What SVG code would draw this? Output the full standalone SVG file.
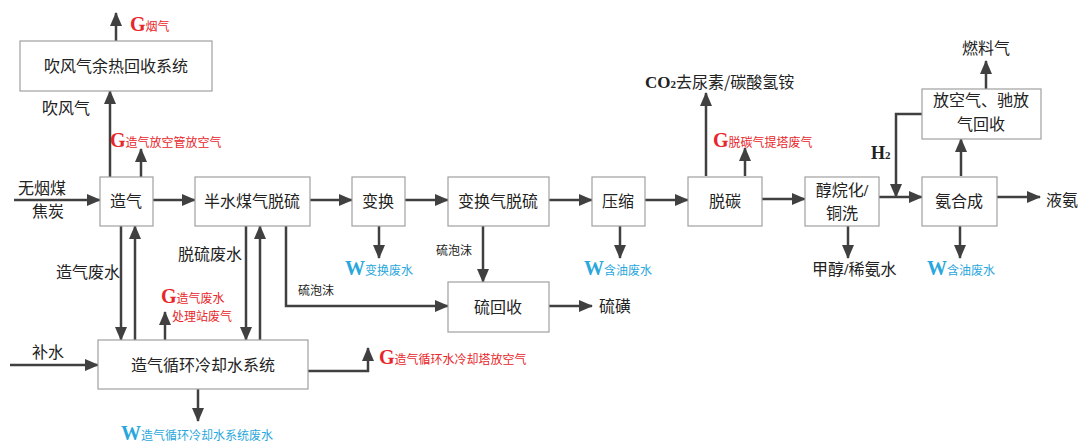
<svg xmlns="http://www.w3.org/2000/svg" width="1079" height="443" viewBox="0 0 1079 443">
<defs>
<marker id="ah" markerUnits="userSpaceOnUse" markerWidth="14" markerHeight="12" refX="13" refY="6" orient="auto">
<path d="M0,0 L14,6 L0,12 Z" fill="#404040"/>
</marker>
<style>
.box{fill:#fff;stroke:#a0a0a0;stroke-width:1.2}
.ln{fill:none;stroke:#404040;stroke-width:2.5}
.ar{fill:none;stroke:#404040;stroke-width:2.5;marker-end:url(#ah)}
.t{font-family:"Noto Sans CJK SC","Noto Sans CJK JP",sans-serif;font-size:16px;fill:#222}
.m{text-anchor:middle}
.s{font-family:"Noto Sans CJK SC",sans-serif;font-size:12px;fill:#222}
.r{font-family:"Noto Sans CJK SC",sans-serif;font-size:12px;fill:#e8262a}
.b{font-family:"Noto Sans CJK SC",sans-serif;font-size:12px;fill:#2aa7dc}
.G{font-family:"Liberation Serif",serif;font-weight:bold;font-size:20px;fill:#e8262a}
.W{font-family:"Liberation Serif",serif;font-weight:bold;font-size:20px;fill:#2aa7dc}
.bs{font-family:"Liberation Serif",serif;font-weight:bold;fill:#222}
</style>
</defs>
<g id="connectors">
<path class="ar" d="M14,200 L100,200"/>
<path class="ar" d="M153,200 L195,200"/>
<path class="ar" d="M310,200 L352,200"/>
<path class="ar" d="M405,200 L448,200"/>
<path class="ar" d="M549,200 L592,200"/>
<path class="ar" d="M645,200 L688,200"/>
<path class="ar" d="M762,199 L805,199"/>
<path class="ar" d="M879,197 L922,197"/>
<path class="ar" d="M997,197 L1040,197"/>
<path class="ar" d="M110,177 L110,91"/>
<path class="ar" d="M116,41 L116,13"/>
<path class="ar" d="M141,177 L141,149"/>
<path class="ar" d="M121,226 L121,340"/>
<path class="ar" d="M135,340 L135,226"/>
<path class="ar" d="M246,226 L246,340"/>
<path class="ar" d="M260,340 L260,226"/>
<path class="ar" d="M165,340 L165,312"/>
<path class="ar" d="M10,365 L98,365"/>
<path class="ar" d="M198,389 L198,421"/>
<path class="ar" d="M308,371 L368,371 L368,348"/>
<path class="ar" d="M286,226 L286,306 L448,306"/>
<path class="ar" d="M379,226 L379,258"/>
<path class="ar" d="M483,226 L483,282"/>
<path class="ar" d="M549,306 L592,306"/>
<path class="ar" d="M620,226 L620,258"/>
<path class="ar" d="M706,176 L706,93"/>
<path class="ar" d="M745,176 L745,148"/>
<path class="ar" d="M848,226 L848,258"/>
<path class="ar" d="M960,226 L960,258"/>
<path class="ar" d="M961,176 L961,139"/>
<path class="ar" d="M986,89 L986,61"/>
<path class="ar" d="M922,114 L896,114 L896,197"/>
</g>
<g id="n_blow"><rect class="box" x="20" y="41" width="192" height="50"/><text class="t m" x="116" y="72">吹风气余热回收系统</text></g>
<g id="n_gas"><rect class="box" x="100" y="177" width="53" height="49"/><text class="t m" x="126" y="207">造气</text></g>
<g id="n_desulf"><rect class="box" x="195" y="177" width="115" height="49"/><text class="t m" x="252" y="207">半水煤气脱硫</text></g>
<g id="n_shift"><rect class="box" x="352" y="177" width="53" height="49"/><text class="t m" x="378" y="207">变换</text></g>
<g id="n_shiftdes"><rect class="box" x="448" y="177" width="101" height="49"/><text class="t m" x="498" y="207">变换气脱硫</text></g>
<g id="n_comp"><rect class="box" x="592" y="177" width="53" height="49"/><text class="t m" x="618" y="207">压缩</text></g>
<g id="n_decarb"><rect class="box" x="688" y="177" width="74" height="49"/><text class="t m" x="725" y="207">脱碳</text></g>
<g id="n_meth"><rect class="box" x="805" y="177" width="74" height="49"/><text class="t m" x="842" y="196">醇烷化<tspan class="bs">/</tspan></text><text class="t m" x="842" y="219">铜洗</text></g>
<g id="n_nh3"><rect class="box" x="922" y="177" width="75" height="49"/><text class="t m" x="959" y="207">氨合成</text></g>
<g id="n_purge"><rect class="box" x="922" y="89" width="119" height="50"/><text class="t m" x="981" y="106">放空气、驰放</text><text class="t m" x="981" y="130">气回收</text></g>
<g id="n_srec"><rect class="box" x="448" y="282" width="101" height="50"/><text class="t m" x="498" y="313">硫回收</text></g>
<g id="n_cool"><rect class="box" x="98" y="340" width="210" height="49"/><text class="t m" x="203" y="371">造气循环冷却水系统</text></g>
<g id="labels">
<text class="t" x="42" y="114">吹风气</text>
<text x="130" y="31"><tspan class="G">G</tspan><tspan class="r">烟气</tspan></text>
<text x="110" y="147"><tspan class="G">G</tspan><tspan class="r">造气放空管放空气</tspan></text>
<text class="t" x="18" y="194">无烟煤</text>
<text class="t" x="32" y="217">焦炭</text>
<text class="t" x="56" y="278">造气废水</text>
<text class="t" x="178" y="260">脱硫废水</text>
<text x="161" y="303"><tspan class="G">G</tspan><tspan class="r">造气废水</tspan></text>
<text class="r" x="172" y="321">处理站废气</text>
<text class="t" x="32" y="358">补水</text>
<text x="121" y="440"><tspan class="W">W</tspan><tspan class="b">造气循环冷却水系统废水</tspan></text>
<text x="379" y="364"><tspan class="G">G</tspan><tspan class="r">造气循环水冷却塔放空气</tspan></text>
<text class="s" x="298" y="295">硫泡沫</text>
<text class="s" x="436" y="255">硫泡沫</text>
<text x="345" y="275"><tspan class="W">W</tspan><tspan class="b">变换废水</tspan></text>
<text class="t" x="599" y="312">硫磺</text>
<text x="584" y="275"><tspan class="W">W</tspan><tspan class="b">含油废水</tspan></text>
<text x="645" y="88"><tspan class="bs" font-size="17">CO</tspan><tspan class="bs" font-size="11">2</tspan><tspan class="t">去尿素/碳酸氢铵</tspan></text>
<text x="713" y="147"><tspan class="G">G</tspan><tspan class="r">脱碳气提塔废气</tspan></text>
<text class="t" x="812" y="275">甲醇<tspan class="bs">/</tspan>稀氨水</text>
<text x="927" y="275"><tspan class="W">W</tspan><tspan class="b">含油废水</tspan></text>
<text class="t" x="962" y="54">燃料气</text>
<text x="871" y="159"><tspan class="bs" font-size="18">H</tspan><tspan class="bs" font-size="11">2</tspan></text>
<text class="t" x="1046" y="206">液氨</text>
</g>
</svg>
